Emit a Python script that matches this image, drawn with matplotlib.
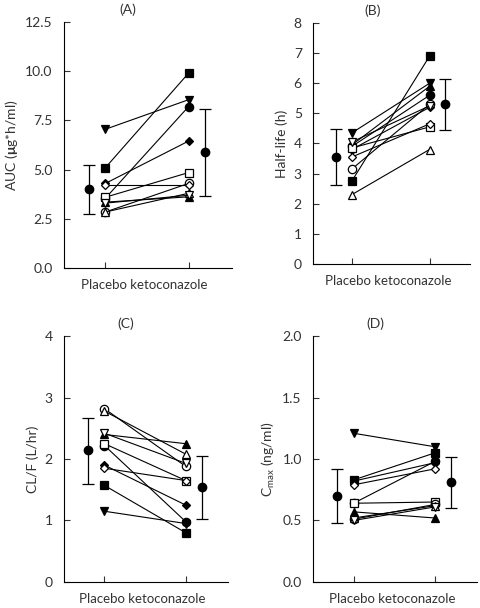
import matplotlib.pyplot as plt

plt.rcParams['font.family'] = ['Lato', 'DejaVu Sans']
plt.rcParams['mathtext.fontset'] = 'custom'
plt.rcParams['mathtext.rm'] = 'Lato'
plt.rcParams['mathtext.bf'] = 'Lato:bold'

# subjects: filled square, circle, up, down, diamond, then open ones
markers = ['s', 'o', '^', 'v', 'D', 's', 'o', '^', 'v', 'D']
filled = [True, True, True, True, True, False, False, False, False, False]

# (A) AUC
auc_placebo = [5.10, 3.55, 3.35, 7.05, 4.30, 3.60, 2.85, 2.85, 3.30, 4.20]
auc_keto = [9.90, 8.20, 3.62, 8.55, 6.45, 4.85, 4.30, 3.80, 3.70, 4.20]
auc_mean = [4.00, 5.88]
auc_lo = [2.75, 3.65]
auc_hi = [5.25, 8.10]

# (B) half-life
hl_placebo = [2.75, 3.90, 3.95, 4.35, 3.80, 3.85, 3.15, 2.30, 4.05, 3.55]
hl_keto = [6.90, 5.60, 5.90, 6.00, 5.20, 4.55, 5.30, 3.80, 5.25, 4.65]
hl_mean = [3.55, 5.30]
hl_lo = [2.62, 4.45]
hl_hi = [4.48, 6.15]

# (C) CL/F
cl_placebo = [1.57, 2.22, 2.40, 1.15, 1.90, 2.25, 2.82, 2.78, 2.42, 1.85]
cl_keto = [0.80, 0.98, 2.25, 0.95, 1.25, 1.65, 1.88, 2.08, 1.93, 1.65]
cl_mean = [2.14, 1.54]
cl_lo = [1.60, 1.02]
cl_hi = [2.67, 2.05]

# (D) Cmax
cmax_placebo = [0.83, 0.64, 0.57, 1.21, 0.82, 0.64, 0.51, 0.52, 0.50, 0.79]
cmax_keto = [1.05, 0.98, 0.52, 1.10, 0.97, 0.65, 0.63, 0.62, 0.61, 0.92]
cmax_mean = [0.70, 0.81]
cmax_lo = [0.48, 0.60]
cmax_hi = [0.92, 1.02]

fig = plt.figure(figsize=(4.8, 6.08), dpi=100)


def panel(rect, title, ylabel, placebo, keto, mean, lo, hi, yticks, fmt):
    ax = fig.add_axes(rect)
    for i in range(len(placebo)):
        fc = 'black' if filled[i] else 'white'
        ax.plot([1, 2], [placebo[i], keto[i]], color='black', lw=0.8,
                marker=markers[i], ms=6 if markers[i] != 'D' else 4.5,
                mfc=fc, mec='black', mew=0.9, zorder=3)
    err = [[m - l for m, l in zip(mean, lo)], [h - m for m, h in zip(mean, hi)]]
    ax.errorbar([0.8, 2.2], mean, yerr=err, fmt='o', color='black', ms=6,
                capsize=4, elinewidth=0.9, capthick=0.9)
    ax.set_xlim(0.5, 2.52)
    ax.set_ylim(yticks[0], yticks[-1])
    ax.set_yticks(yticks)
    ax.set_yticklabels([fmt.format(t) for t in yticks])
    ax.set_xticks([1, 2])
    ax.set_xticklabels([])
    ax.tick_params(direction='in', length=4, width=0.8, labelsize=10,
                   colors='#333333')
    ax.tick_params(axis='y', pad=8)
    ax.spines['top'].set_visible(False)
    ax.spines['right'].set_visible(False)
    ax.set_ylabel(ylabel, fontsize=10, color='#333333')
    ax.text(0.38, 1.05, title, transform=ax.transAxes, ha='center',
            va='center', fontsize=10, color='#333333')
    ax.text(0.48, -0.07, 'Placebo ketoconazole', transform=ax.transAxes,
            ha='center', va='center', fontsize=9.5, color='#333333')
    return ax


panel([0.133, 0.559, 0.35, 0.405], '(A)', 'AUC ($\\mathbf{\\mu}$g*h/ml)',
      auc_placebo, auc_keto, auc_mean, auc_lo, auc_hi,
      [0, 2.5, 5.0, 7.5, 10.0, 12.5], '{:.1f}')
panel([0.652, 0.566, 0.327, 0.396], '(B)', 'Half-life (h)',
      hl_placebo, hl_keto, hl_mean, hl_lo, hl_hi,
      [0, 1, 2, 3, 4, 5, 6, 7, 8], '{:.0f}')
panel([0.133, 0.043, 0.342, 0.404], '(C)', 'CL/F (L/hr)',
      cl_placebo, cl_keto, cl_mean, cl_lo, cl_hi,
      [0, 1, 2, 3, 4], '{:.0f}')
panel([0.652, 0.043, 0.342, 0.404], '(D)', 'C$_{\\rm max}$ (ng/ml)',
      cmax_placebo, cmax_keto, cmax_mean, cmax_lo, cmax_hi,
      [0, 0.5, 1.0, 1.5, 2.0], '{:.1f}')

fig.savefig('out.png', dpi=100)
